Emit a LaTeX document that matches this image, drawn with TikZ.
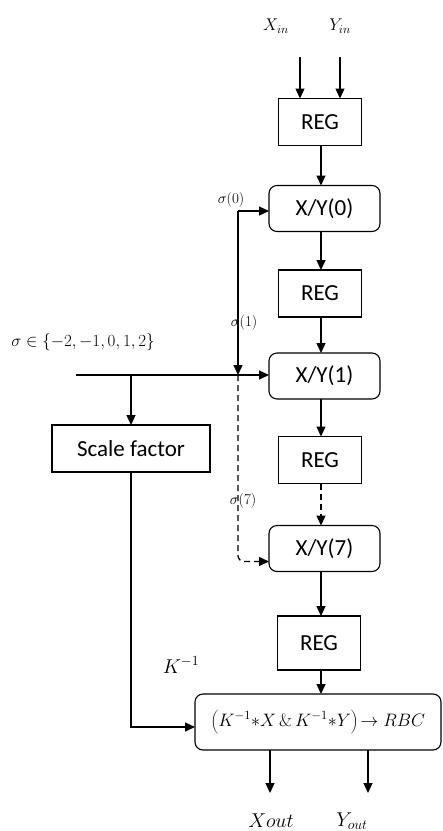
\RequirePackage{fix-cm}
\documentclass[tikz,border=0pt]{standalone}
\usepackage{fontspec}
\newfontfamily\boxfont{Carlito}
\usetikzlibrary{arrows.meta}
\begin{document}
\begin{tikzpicture}[x=1pt,y=-1pt,
  every node/.style={inner sep=0pt,outer sep=0pt},
  regbox/.style={draw,line width=1.3pt,minimum width=83pt,minimum height=47pt,font=\boxfont\fontsize{23}{26}\selectfont},
  xybox/.style={draw,line width=1.1pt,rounded corners=8pt,minimum width=111pt,minimum height=46pt,font=\boxfont\fontsize{23}{26}\selectfont},
  conn/.style={line width=1.3pt,-{Triangle[length=10pt,width=9pt]}},
  dash6/.style={dash pattern=on 6pt off 4pt},
  mlabel/.style={font=\fontsize{20}{24}\selectfont},
  slabel/.style={font=\fontsize{15}{17}\selectfont}]
\useasboundingbox (0,0) rectangle (443,831);
% labels
\node[font=\fontsize{17}{20}\selectfont] (xin) at (276,26) {$X_{in}$};
\node[font=\fontsize{17}{20}\selectfont] (yin) at (340,26) {$Y_{in}$};
% boxes
\node[regbox] (reg1) at (320,122) {REG};
\node[xybox] (xy0) at (324.5,208.5) {X/Y(0)};
\node[regbox] (reg2) at (320,293.5) {REG};
\node[xybox] (xy1) at (324.5,376) {X/Y(1)};
\node[regbox] (reg3) at (320,460) {REG};
\node[xybox] (xy7) at (324.5,548.5) {X/Y(7)};
\node[regbox,minimum height=54pt] (reg4) at (319,643) {REG};
\node[xybox,minimum width=246pt,minimum height=56pt,font=\fontsize{18}{22}\selectfont] (final) at (318,722)
  {$\left(K^{-1}{*}X\,\&\,K^{-1}{*}Y\right)\!\rightarrow RBC$};
\node[regbox,minimum width=158pt] (scale) at (131,448.5) {Scale factor};
% other labels
\node[font=\fontsize{17}{21}\selectfont] (sig) at (83,342) {$\sigma\in\left\{-2,-1,0,1,2\right\}$};
\node[slabel] (s0) at (231,200) {$\sigma$(0)};
\node[slabel] (s1) at (244,323) {$\sigma$(1)};
\node[slabel] (s7) at (243,501) {$\sigma$(7)};
\node[mlabel] (kinv) at (181,665) {$K^{-1}$};
\node[mlabel] (xout) at (271,821) {$Xout$};
\node[mlabel] (yout) at (352,821) {$Y_{out}$};
% coordinates
\coordinate (xa) at (300,57);
\coordinate (ya) at (340,57);
\coordinate (hs) at (76,375);
\coordinate (jt) at (238,211);
\coordinate (jb) at (238,375);
\coordinate (br) at (131,375);
\coordinate (o1) at (270,793);
\coordinate (o2) at (368,793);
% connectors
\draw[conn] (xa) -- (xa |- reg1.north);
\draw[conn] (ya) -- (ya |- reg1.north);
\draw[conn] (reg1.south -| 321,0) -- (321,0 |- xy0.north);
\draw[conn] (xy0.south -| 321,0) -- (321,0 |- reg2.north);
\draw[conn] (reg2.south -| 321,0) -- (321,0 |- xy1.north);
\draw[conn] (xy1.south -| 321,0) -- (321,0 |- reg3.north);
\draw[conn,dash6] (reg3.south -| 321,0) -- (321,0 |- xy7.north);
\draw[conn] (xy7.south -| 321,0) -- (321,0 |- reg4.north);
\draw[conn] (reg4.south -| 321,0) -- (321,0 |- final.north);
\draw[conn] (hs) -- (hs -| xy1.west);
\draw[conn] (jt) -- (jt -| xy0.west);
\draw[conn] (jt) -- (jb);
\draw[conn,dash6,rounded corners=6pt] (jb) |- ([yshift=-13pt]xy7.west);
\draw[conn] (br) -- (scale.north);
\draw[conn] (scale.south) |- ([yshift=-5pt]final.west);
\draw[conn] (o1 |- final.south) -- (o1);
\draw[conn] (o2 |- final.south) -- (o2);
\end{tikzpicture}
\end{document}
